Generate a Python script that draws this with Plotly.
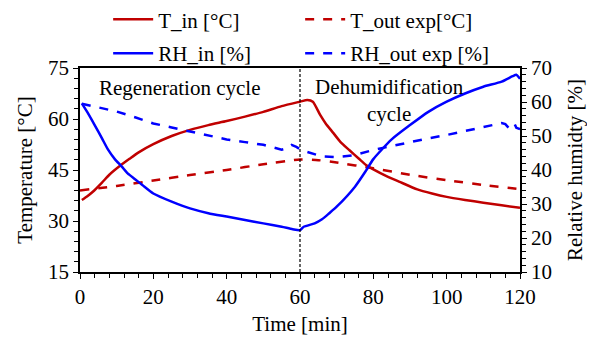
import plotly.graph_objects as go

# ---- data ----
t_Tin = [0.5, 2, 3.5, 6, 8, 11, 13.5, 16, 20, 25, 30, 35, 40, 45, 50, 55, 60, 62, 63.5, 65.5, 67, 69, 71, 73.5, 76, 78, 80, 84, 87, 92, 96, 100, 105, 110, 115, 120]
T_in = [36.2, 37.3, 38.6, 41.3, 43.6, 46.3, 48.3, 50.2, 52.6, 55.0, 56.8, 58.2, 59.4, 60.7, 62.1, 63.8, 65.1, 65.6, 65.1, 61.2, 58.7, 56.0, 53.3, 50.8, 48.4, 46.5, 45.2, 43.0, 41.6, 39.3, 38.1, 37.1, 36.2, 35.4, 34.6, 33.9]

t_Tout = [0, 10, 20, 30, 40, 50, 60, 65, 70, 80, 90, 100, 110, 120]
T_out = [39.0, 40.3, 41.9, 43.5, 45.0, 46.7, 48.1, 47.9, 47.2, 45.5, 43.6, 42.0, 40.6, 39.4]

t_RHin = [0.5, 2, 4, 6, 7.7, 9.5, 11.4, 13, 15, 17, 20, 25, 30, 35, 40, 45, 50, 55, 58, 60, 61, 64, 66, 68, 70, 75, 78, 80, 85, 90, 95, 100, 105, 110, 115, 118, 119, 120]
RH_in = [59.6, 57.0, 53.2, 49.3, 45.9, 43.2, 41.0, 39.0, 37.3, 35.6, 33.1, 30.7, 28.7, 27.3, 26.3, 25.3, 24.3, 23.3, 22.6, 22.3, 23.3, 24.3, 25.5, 27.3, 29.2, 35.1, 39.8, 43.2, 49.0, 53.2, 57.1, 60.1, 62.5, 64.5, 66.0, 67.6, 68.0, 66.8]

t_RHout = [0.5, 5, 10, 15, 20, 25, 30, 35, 40, 45, 50, 55, 56.5, 57.7, 59, 60.5, 63.5, 66, 70, 75, 80, 85, 90, 95, 100, 105, 110, 113, 115, 116, 117, 118, 118.5, 119, 120]
RH_out = [59.5, 58.5, 57.2, 55.5, 53.7, 52.5, 51.3, 50.0, 49.0, 48.2, 47.4, 46.0, 46.4, 47.4, 46.8, 45.8, 44.7, 44.0, 43.8, 44.4, 45.9, 47.1, 48.3, 49.3, 50.3, 51.5, 52.7, 53.5, 53.8, 53.5, 52.3, 52.8, 53.6, 52.4, 52.0]

x_ticks = [0, 20, 40, 60, 80, 100, 120]
yT_ticks = [15, 30, 45, 60, 75]
yRH_ticks = [10, 20, 30, 40, 50, 60, 70]

RED = "#C00000"
BLUE = "#0000FF"
FONT = "Liberation Serif"
FS = 21

fig = go.Figure()
fig.add_trace(go.Scatter(x=t_Tin, y=T_in, mode="lines", name="T_in [°C]", legend="legend",
                         line=dict(color=RED, width=2.5, shape="spline", smoothing=0.6)))
fig.add_trace(go.Scatter(x=t_Tout, y=T_out, mode="lines", name="T_out exp[°C]", legend="legend",
                         line=dict(color=RED, width=2.5, dash="dash", shape="spline", smoothing=0.5)))
fig.add_trace(go.Scatter(x=t_RHin, y=RH_in, mode="lines", name="RH_in [%]", yaxis="y2", legend="legend2",
                         line=dict(color=BLUE, width=2.5, shape="spline", smoothing=0.6)))
fig.add_trace(go.Scatter(x=t_RHout, y=RH_out, mode="lines", name="RH_out exp [%]", yaxis="y2", legend="legend2",
                         line=dict(color=BLUE, width=2.5, dash="dash")))

fig.add_shape(type="line", x0=60, x1=60, y0=0, y1=1, xref="x", yref="paper",
              line=dict(color="black", width=1.2, dash="3px,2px"))

fig.add_annotation(x=27.3, y=69.1, xref="x", yref="y", text="Regeneration cycle",
                   showarrow=False, font=dict(family=FONT, size=FS, color="black"))
fig.add_annotation(x=84.5, y=65.4, xref="x", yref="y", text="Dehumidification<br>cycle",
                   showarrow=False, font=dict(family=FONT, size=FS, color="black"))

axis_common = dict(showgrid=False, zeroline=False, showline=True, linecolor="black", linewidth=1.5,
                   ticks="outside", ticklen=5, tickwidth=1.3, tickcolor="black", automargin=False,
                   tickfont=dict(family=FONT, size=FS, color="black"))

leg_common = dict(orientation="h", xanchor="left", yanchor="middle",
                  entrywidth=137, entrywidthmode="pixels", traceorder="normal",
                  font=dict(family=FONT, size=FS, color="black"), bgcolor="rgba(0,0,0,0)",
                  itemwidth=40)

# page body has an 8px margin: figure is sized so that it ends at the window edge
fig.update_layout(
    width=587, height=332,
    margin=dict(l=72, r=75, t=60, b=68, autoexpand=False),
    plot_bgcolor="white", paper_bgcolor="white",
    font=dict(family=FONT, size=FS, color="black"),
    showlegend=True,
    legend=dict(x=0.064, y=1.237, **leg_common),
    legend2=dict(x=0.064, y=1.071, **leg_common),
    xaxis=dict(range=[0, 120], tickvals=x_ticks, mirror=True,
               minor=dict(dtick=4, ticks="outside", ticklen=4, tickcolor="black"),
               title=dict(text="Time [min]", font=dict(family=FONT, size=FS), standoff=8),
               **axis_common),
    yaxis=dict(range=[15, 75], tickvals=yT_ticks,
               minor=dict(dtick=3, ticks="outside", ticklen=4, tickcolor="black"),
               title=dict(text="Temperature [°C]", font=dict(family=FONT, size=FS), standoff=10),
               **axis_common),
    yaxis2=dict(range=[10, 70], tickvals=yRH_ticks, overlaying="y", side="right",
                minor=dict(dtick=2, ticks="outside", ticklen=4, tickcolor="black"),
                title=dict(text="Relative humidty [%]", font=dict(family=FONT, size=FS), standoff=16),
                **axis_common),
)

fig.write_html("out.html")
